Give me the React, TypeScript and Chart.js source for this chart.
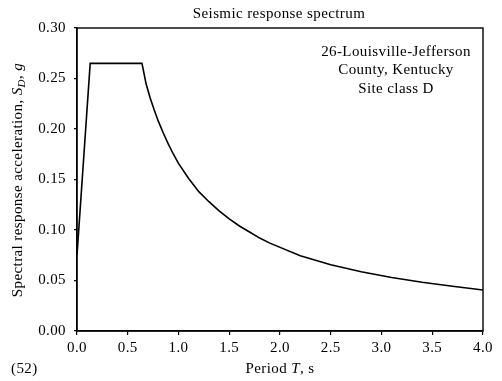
import React, { useEffect, useRef } from "react";
import { Chart, registerables } from "chart.js";

Chart.register(...registerables);

const periods = [0.0, 0.13, 0.64, 0.66, 0.68, 0.72, 0.76, 0.8, 0.85, 0.9, 0.95, 1.0, 1.1, 1.2, 1.3, 1.4, 1.5, 1.6, 1.7, 1.8, 1.9, 2.2, 2.5, 2.8, 3.1, 3.4, 3.7, 4.0];
const accel = [0.075, 0.265, 0.265, 0.255, 0.245, 0.231, 0.219, 0.208, 0.196, 0.185, 0.175, 0.166, 0.151, 0.138, 0.128, 0.119, 0.111, 0.104, 0.098, 0.092, 0.087, 0.0745, 0.0656, 0.0586, 0.053, 0.0483, 0.0443, 0.0406];
const chartTitle = "Seismic response spectrum";
const noteLines = ["26-Louisville-Jefferson", "County, Kentucky", "Site class D"];
const figNumber = "(52)";

const FONT = '"Liberation Serif", "DejaVu Serif", serif';
const SIZE = 15;
const SPACING = "0.4px";

type Part = { t: string; italic?: boolean; sub?: boolean };

function drawParts(ctx: CanvasRenderingContext2D, parts: Part[], cx: number, cy: number, size: number) {
  const fontFor = (p: Part) => `${p.italic ? "italic " : ""}${p.sub ? Math.round(size * 0.7) : size}px ${FONT}`;
  let total = 0;
  for (const p of parts) {
    ctx.font = fontFor(p);
    total += ctx.measureText(p.t).width;
  }
  let x = cx - total / 2;
  ctx.textAlign = "left";
  ctx.textBaseline = "middle";
  for (const p of parts) {
    ctx.font = fontFor(p);
    ctx.fillText(p.t, x, p.sub ? cy + size * 0.3 : cy);
    x += ctx.measureText(p.t).width;
  }
}

const spacingPlugin = {
  id: "spacingPlugin",
  beforeDraw(chart: any) {
    (chart.ctx as any).letterSpacing = SPACING;
  },
};

const textPlugin = {
  id: "textPlugin",
  afterDraw(chart: any) {
    const ctx: CanvasRenderingContext2D = chart.ctx;
    const a = chart.chartArea;
    ctx.save();
    (ctx as any).letterSpacing = SPACING;
    ctx.strokeStyle = "#000";
    ctx.lineWidth = 1.4;
    ctx.strokeRect(a.left, a.top, a.right - a.left, a.bottom - a.top);
    ctx.fillStyle = "#000";
    ctx.font = `${SIZE}px ${FONT}`;
    ctx.textAlign = "center";
    ctx.textBaseline = "middle";
    ctx.fillText(chartTitle, 279, 14);
    const nx = 396;
    noteLines.forEach((l, i) => ctx.fillText(l, nx, 52 + i * 18.5));
    ctx.textAlign = "left";
    ctx.fillText(figNumber, 11, 369);
    drawParts(ctx, [{ t: "Period " }, { t: "T", italic: true }, { t: ", s" }], 280, 369, SIZE);
    ctx.save();
    ctx.translate(18, 180);
    ctx.rotate(-Math.PI / 2);
    drawParts(
      ctx,
      [
        { t: "Spectral response acceleration, " },
        { t: "S", italic: true },
        { t: "D", italic: true, sub: true },
        { t: ", " },
        { t: "g", italic: true },
      ],
      0,
      0,
      SIZE
    );
    ctx.restore();
    ctx.restore();
  },
};

export default function App() {
  const ref = useRef<HTMLCanvasElement>(null);
  useEffect(() => {
    const data = periods.map((x, i) => ({ x, y: accel[i] }));
    const chart = new Chart(ref.current!, {
      type: "line",
      data: {
        datasets: [
          {
            data,
            borderColor: "#000",
            borderWidth: 1.6,
            pointRadius: 0,
            tension: 0,
            fill: false,
          },
        ],
      },
      options: {
        animation: false,
        responsive: false,
        layout: { padding: { left: 0, right: 19, top: 28, bottom: 0 } },
        plugins: { legend: { display: false }, tooltip: { enabled: false } },
        scales: {
          x: {
            type: "linear",
            min: 0,
            max: 4,
            afterFit: (s: any) => {
              s.height = 50;
            },
            ticks: {
              stepSize: 0.5,
              color: "#000",
              padding: 4,
              maxRotation: 0,
              font: { family: FONT, size: SIZE },
              callback: (v: any) => Number(v).toFixed(1),
            },
            grid: { display: true, drawOnChartArea: false, drawTicks: true, tickLength: 4, color: "#000", lineWidth: 1.2 },
            border: { display: true, color: "#000", width: 1.4 },
          },
          y: {
            min: 0,
            max: 0.3,
            afterFit: (s: any) => {
              s.width = 77;
            },
            ticks: {
              stepSize: 0.05,
              color: "#000",
              padding: 8,
              font: { family: FONT, size: SIZE },
              callback: (v: any) => Number(v).toFixed(2),
            },
            grid: { display: true, drawOnChartArea: false, drawTicks: true, tickLength: 3, color: "#000", lineWidth: 1.2 },
            border: { display: true, color: "#000", width: 1.4 },
          },
        },
      },
      plugins: [spacingPlugin, textPlugin],
    });
    return () => chart.destroy();
  }, []);
  return (
    <div style={{ position: "fixed", left: 0, top: 0, width: 502, height: 381, background: "#fff" }}>
      <canvas ref={ref} width={502} height={381} style={{ width: 502, height: 381 }} />
    </div>
  );
}
